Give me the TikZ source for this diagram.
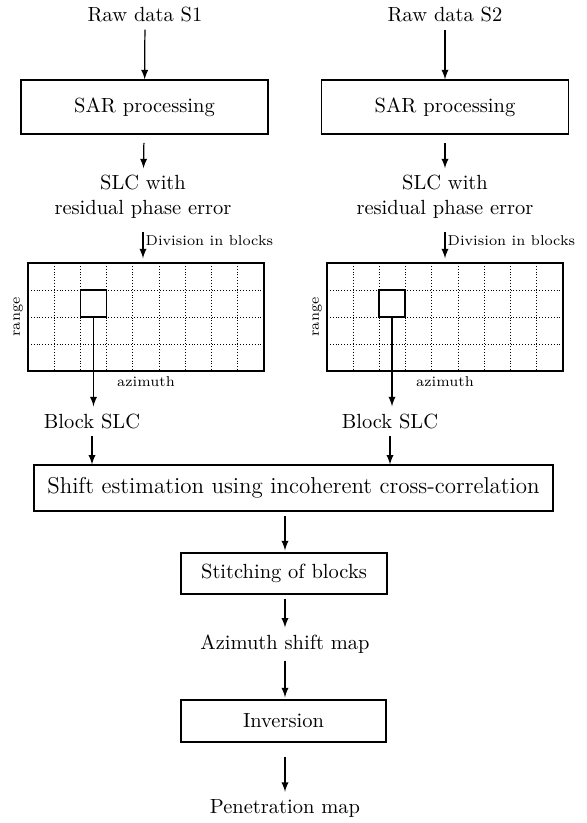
\documentclass[tikz,border=0pt]{standalone}
\usetikzlibrary{arrows}
\tikzset{
  procbox/.style={draw, semithick, inner sep=0pt},
  flow/.style={-latex, semithick},
  small/.style={font=\scriptsize},
}
\begin{document}
\begin{tikzpicture}[x=0.488pt,y=-0.488pt]
  \useasboundingbox (0,0) rectangle (587,823);
  \draw
    (145,15) node (raw1){Raw data S1}
    (445,15) node (raw2){Raw data S2}
    (143,197) node[align=center] (slc1){SLC with\\residual phase error}
    (445,197) node[align=center] (slc2){SLC with\\residual phase error}
    (92,421) node (block1){Block SLC}
    (390,421) node (block2){Block SLC}
    (285,644) node (azmap){Azimuth shift map}
    (285,808) node (pen){Penetration map};
  \node[procbox, minimum width=120.5pt, minimum height=26.4pt] (sar1) at (144.5,107) {SAR processing};
  \node[procbox, minimum width=120.5pt, minimum height=26.4pt] (sar2) at (445,107) {SAR processing};
  \node[procbox, minimum width=253.3pt, minimum height=22.4pt, font=\fontsize{11.2}{13}\selectfont]
    (shift) at (293.5,488) {Shift estimation using incoherent cross-correlation};
  \node[procbox, minimum width=100.5pt, minimum height=20pt] (stitch) at (284,573.5) {Stitching of blocks};
  \node[procbox, minimum width=100pt, minimum height=20.5pt] (inv) at (283.5,721) {Inversion};
  % the two block grids
  \foreach \g/\gx/\cx in {1/28/93.5, 2/327/392} {
    \node[procbox, minimum width=115.2pt, minimum height=52.7pt] (grid\g) at (\gx+118,317) {};
    \foreach \i in {1,...,8}
      \draw[densely dotted] (\gx+\i*26.22,263) -- (\gx+\i*26.22,371);
    \foreach \j in {1,2,3}
      \draw[densely dotted] (\gx,263+\j*27) -- (\gx+236,263+\j*27);
    \node[draw, thick, inner sep=0pt, minimum width=12.8pt, minimum height=13.2pt] (cell\g) at (\cx,303.5) {};
    \node[small, rotate=90, anchor=south, inner sep=2pt] at (grid\g.west) {range};
    \node[small, anchor=north, inner sep=2pt] at (grid\g.south) {azimuth};
  }
  \begin{scope}[flow]
    \draw (raw1) -- (sar1);
    \draw (raw2) -- (sar2);
    \draw[shorten <=4pt] (sar1) -- (slc1);
    \draw[shorten <=4pt] (sar2) -- (slc2);
    \draw[shorten <=3pt, shorten >=2pt] (slc1.south) -- (slc1.south |- grid1.north)
      node[small, pos=0.4, right, inner sep=1pt] {Division in blocks};
    \draw[shorten <=3pt, shorten >=2pt] (slc2.south) -- (slc2.south |- grid2.north)
      node[small, pos=0.4, right, inner sep=1pt] {Division in blocks};
    \draw (cell1.south) -- (cell1.south |- block1.north);
    \draw (cell2.south) -- (cell2.south |- block2.north);
    \draw (block1) -- (block1 |- shift.north);
    \draw (block2) -- (block2 |- shift.north);
    \draw[shorten <=2pt, shorten >=1pt] (azmap.north |- shift.south) -- (azmap.north |- stitch.north);
    \draw[shorten <=2pt] (azmap.north |- stitch.south) -- (azmap);
    \draw[shorten >=1pt] (azmap) -- (azmap.south |- inv.north);
    \draw[shorten <=7pt] (azmap.south |- inv.south) -- (azmap.south |- pen.north);
  \end{scope}
\end{tikzpicture}
\end{document}
